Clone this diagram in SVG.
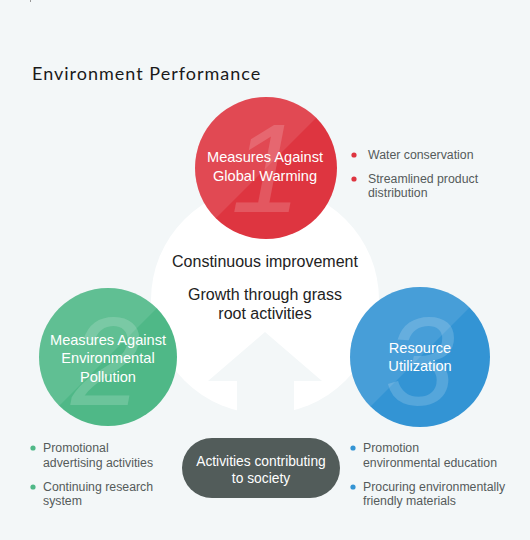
<svg xmlns="http://www.w3.org/2000/svg" width="530" height="540" viewBox="0 0 530 540">
<style>
.bg{fill:#f3f7f8}
.title{font-family:"Lato","Noto Sans",sans-serif;font-size:18px;letter-spacing:1px;fill:#1a1a1a}
.lbl{font-family:"Liberation Sans",Arial,sans-serif;font-size:14.6px;fill:#ffffff;text-anchor:middle}
.num{font-family:"Liberation Sans",Arial,sans-serif;font-size:126px;font-style:italic;fill:#ffffff;fill-opacity:0.17;text-anchor:middle}
.ctr{font-family:"Liberation Sans",Arial,sans-serif;font-size:16px;fill:#222222;text-anchor:middle}
.bul{font-family:"Liberation Sans",Arial,sans-serif;font-size:12.3px;fill:#555b5b}
.pill{font-family:"Liberation Sans",Arial,sans-serif;font-size:13.8px;fill:#ffffff;text-anchor:middle}
.shine{fill:#ffffff;fill-opacity:0.1}
</style>
<defs>
<clipPath id="c1"><circle cx="266" cy="168" r="71"/></clipPath>
<clipPath id="c2"><circle cx="108" cy="357" r="69"/></clipPath>
<clipPath id="c3"><circle cx="420" cy="357" r="70"/></clipPath>
</defs>
<rect class="bg" x="0" y="0" width="530" height="540"/>
<line x1="30.5" y1="0" x2="30.5" y2="2" stroke="#999" stroke-width="1"/>
<text class="title" x="32" y="80">Environment Performance</text>

<g id="center">
<circle cx="265" cy="300" r="114" fill="#ffffff"/>
<polygon class="bg" points="265,332 322,381 294,381 294,420 237,420 237,381 208,381"/>
<text class="ctr" x="265" y="267">Constinuous improvement</text>
<text class="ctr" x="265" y="300">Growth through grass</text>
<text class="ctr" x="265" y="319">root activities</text>
</g>

<g id="node1">
<circle cx="266" cy="168" r="71" fill="#de3540"/>
<polygon class="shine" clip-path="url(#c1)" points="136,298 396,38 136,38"/>
<text class="num" x="266" y="212">1</text>
<text class="lbl" x="265" y="162">Measures Against</text>
<text class="lbl" x="265" y="181">Global Warming</text>
</g>

<g id="node2">
<circle cx="108" cy="357" r="69" fill="#4fb887"/>
<polygon class="shine" clip-path="url(#c2)" points="-22,487 238,227 -22,227"/>
<text class="num" x="106" y="405">2</text>
<text class="lbl" x="108" y="345">Measures Against</text>
<text class="lbl" x="108" y="363">Environmental</text>
<text class="lbl" x="108" y="382">Pollution</text>
</g>

<g id="node3">
<circle cx="420" cy="357" r="70" fill="#3394d4"/>
<polygon class="shine" clip-path="url(#c3)" points="290,487 550,227 290,227"/>
<text class="num" x="420" y="405">3</text>
<text class="lbl" x="420" y="353">Resource</text>
<text class="lbl" x="420" y="371">Utilization</text>
</g>

<g id="node4">
<rect x="182" y="438" width="158" height="60" rx="30" fill="#525c5a"/>
<text class="pill" x="261" y="466">Activities contributing</text>
<text class="pill" x="261" y="483">to society</text>
</g>

<g id="list1">
<circle cx="354" cy="155" r="2.6" fill="#de3540"/>
<text class="bul" x="368" y="159">Water conservation</text>
<circle cx="354" cy="179" r="2.6" fill="#de3540"/>
<text class="bul" x="368" y="183">Streamlined product</text>
<text class="bul" x="368" y="197">distribution</text>
</g>

<g id="list2">
<circle cx="33" cy="448" r="2.6" fill="#4fb887"/>
<text class="bul" x="43" y="452">Promotional</text>
<text class="bul" x="43" y="467">advertising activities</text>
<circle cx="33" cy="487" r="2.6" fill="#4fb887"/>
<text class="bul" x="43" y="491">Continuing research</text>
<text class="bul" x="43" y="505">system</text>
</g>

<g id="list3">
<circle cx="353" cy="448" r="2.6" fill="#3394d4"/>
<text class="bul" x="363" y="452">Promotion</text>
<text class="bul" x="363" y="467">environmental education</text>
<circle cx="353" cy="487" r="2.6" fill="#3394d4"/>
<text class="bul" x="363" y="491">Procuring environmentally</text>
<text class="bul" x="363" y="505">friendly materials</text>
</g>
</svg>
